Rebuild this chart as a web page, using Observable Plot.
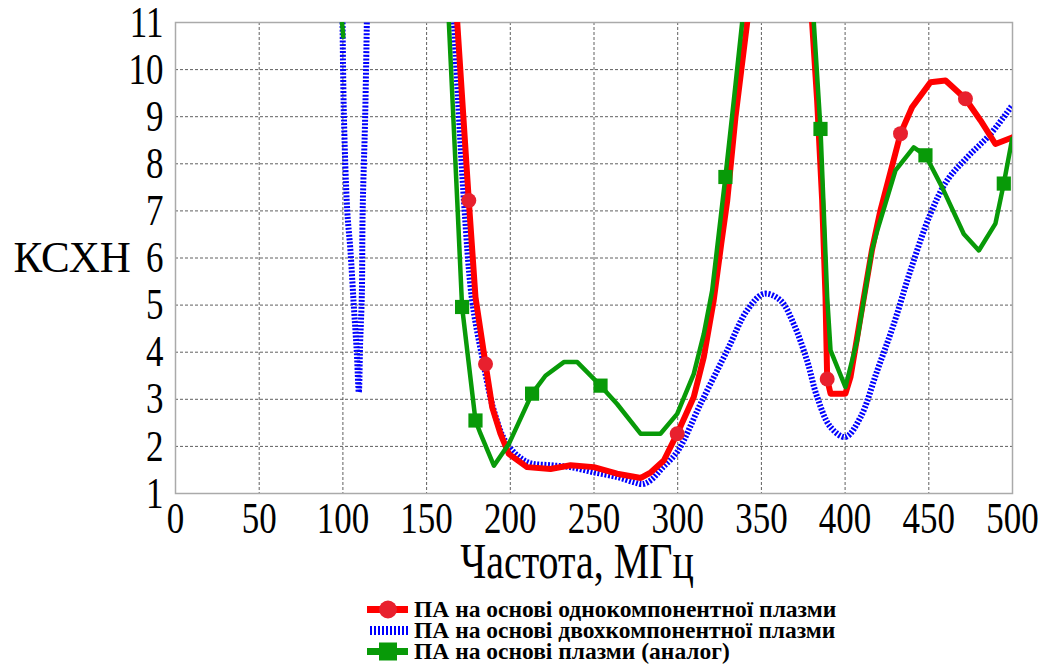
<!DOCTYPE html>
<html><head><meta charset="utf-8">
<script src="https://cdn.jsdelivr.net/npm/d3@7"></script>
<script src="https://cdn.jsdelivr.net/npm/@observablehq/plot@0.6"></script>
<style>
body{margin:0;background:#fff;font-family:"Liberation Serif","Times New Roman",serif;}
#chart svg{display:block;overflow:visible}
#chart svg, #chart svg text{font-family:"Liberation Serif","Times New Roman",serif !important}
#legend{height:72px;padding-top:4px;box-sizing:border-box}
.row{display:flex;align-items:center;height:21px;margin-left:365px}
.row svg{flex:none;margin-right:3px}
.row span{font-weight:bold;font-size:23.5px;line-height:21px;color:#000;display:inline-block;white-space:nowrap}
</style></head><body>
<div id="chart"></div>
<div id="legend"></div>
<script>
const xTicks = [0,50,100,150,200,250,300,350,400,450,500];
const yTicks = [1,2,3,4,5,6,7,8,9,10,11];

const seriesNames = ["ПА на основі однокомпонентної плазми","ПА на основі двохкомпонентної плазми","ПА на основі плазми (аналог)"];

const redFreq = [168.3,175.2,179.2,185.2,189.2,194.1,199.1,210,224,236,249.9,263.8,278,284,291.7,299.7,309.6,315.6,321.5,326,329.6,334.5,341.5,null,380.3,383.3,386.3,388.3,389.3,391.3,400.2,403.2,409.2,416,421.1,433.1,440,451,460,471.9,480.9,489.8,499.8];
const redVswr = [11,7.22,5.17,3.75,2.83,2.27,1.84,1.56,1.52,1.6,1.56,1.42,1.33,1.45,1.7,2.27,3.05,3.9,5.1,6.3,7.22,8.99,11,null,11,9.34,7.22,5.17,3.43,3.12,3.12,3.47,4.74,6.16,7.01,8.64,9.2,9.73,9.77,9.38,8.92,8.42,8.56];

const blueFreq = [99.8,100.6,102.6,104.5,106.5,108.3,109.5,110.3,111.3,111.8,113.3,114.3,null,166.3,172.3,177.2,183.2,190.2,198.1,210,224,236,249.9,263.8,273.8,279,283.8,291,300,313.6,329.6,341.5,351.5,361.4,369.3,377.3,383.3,391.3,400.2,409.2,419.2,429.1,439,451,461,473,487,499.8];
const blueVswr = [11,9,7,6.16,5,4,3.15,4.2,5.2,7,9,11,null,11,7.22,5.1,3.9,2.76,2.05,1.67,1.6,1.56,1.45,1.35,1.24,1.2,1.28,1.55,1.9,2.9,4.04,4.89,5.24,5.1,4.6,3.82,3.05,2.41,2.2,2.62,3.61,4.6,5.73,6.94,7.65,8.14,8.64,9.24];

const greenFreq = [99.5,100.2,null,163.3,168.3,171.2,179.2,182.2,190.2,199.1,213,221,232,240,253.9,263.8,277.8,283.8,289.7,299.7,309.6,315.6,320.6,328.5,333.5,338.5,null,381.3,385.3,389.3,391.3,400.2,407.2,416,419.2,430.1,441,448,458,470.9,479.9,489.8,494.8,499.8];
const greenVswr = [11,10.7,null,11,7.22,4.96,2.55,2.27,1.59,2.05,3.12,3.5,3.79,3.79,3.29,2.9,2.27,2.27,2.27,2.69,3.54,4.39,5.31,7.72,9.34,11,null,11,8.74,5.17,4.04,3.26,4.25,6.16,6.58,7.86,8.35,8.18,7.5,6.51,6.16,6.73,7.58,8.53];

const redMarkFreq = [175.2,185.2,299.7,389.3,433.1,471.9];
const redMarkVswr = [7.22,3.75,2.27,3.43,8.64,9.38];
const greenMarkFreq = [171.2,179.2,213,253.9,328.5,385.3,448,494.8];
const greenMarkVswr = [4.96,2.55,3.12,3.29,7.72,8.74,8.18,7.58];

const toRows = (fs, vs) => fs.map((f, i) => ({f, v: vs[i]}));
const red = toRows(redFreq, redVswr);
const blue = toRows(blueFreq, blueVswr);
const green = toRows(greenFreq, greenVswr);
const redM = toRows(redMarkFreq, redMarkVswr);
const greenM = toRows(greenMarkFreq, greenMarkVswr);

const RED = "#ff0000", RED_M = "#e8202e", BLUE = "#0000ff", GREEN = "#089a08";
const SERIF = '"Liberation Serif","Times New Roman",serif';

const chart = Plot.plot({
  width: 1050, height: 595,
  marginLeft: 175, marginRight: 38, marginTop: 22, marginBottom: 102,
  style: {fontFamily: SERIF, color: "#000", background: "#fff", overflow: "visible"},
  x: {domain: [0, 500]},
  y: {domain: [1, 11]},
  marks: [
    Plot.gridX(xTicks, {stroke: "#444", strokeOpacity: 0.85, strokeDasharray: "3,2"}),
    Plot.gridY(yTicks, {stroke: "#444", strokeOpacity: 0.85, strokeDasharray: "3,2"}),
    Plot.frame({stroke: "#aaa", strokeWidth: 1.5}),
    Plot.axisX(xTicks, {tickSize: 0, tickPadding: 8, fontSize: 35, fontFamily: SERIF, label: null}),
    Plot.axisY(yTicks, {tickSize: 0, tickPadding: 12, fontSize: 35, fontFamily: SERIF, label: null}),
    Plot.line(blue, {x: "f", y: "v", stroke: BLUE, strokeWidth: 6, strokeDasharray: "2,1.6", strokeLinecap: "butt", strokeLinejoin: "miter", curve: "catmull-rom", clip: true}),
    Plot.line(red, {x: "f", y: "v", stroke: RED, strokeWidth: 6, curve: "linear", clip: true}),
    Plot.line(green, {x: "f", y: "v", stroke: GREEN, strokeWidth: 4.5, curve: "linear", clip: true}),
    Plot.dot(redM, {x: "f", y: "v", r: 7.5, fill: RED_M}),
    Plot.dot(greenM, {x: "f", y: "v", r: 8, symbol: "square", fill: GREEN}),
    Plot.text(["КСХН"], {frameAnchor: "left", dx: -162, dy: 0, textAnchor: "start", fontSize: 43, fontFamily: SERIF, className: "ylab"}),
    Plot.text(["Частота, МГц"], {frameAnchor: "bottom", dx: -17, dy: 84, fontSize: 40, fontFamily: SERIF})
  ]
});
// serif font inline and vertical stretch of text like the reference
d3.select(chart).selectAll("text").each(function() {
  this.setAttribute("font-family", "Liberation Serif");
  this.style.fontFamily = "'Liberation Serif', serif";
  const k = this.closest(".ylab") ? 1.05 : 1.26;
  const x = +this.getAttribute("x") || 0, y = +this.getAttribute("y") || 0;
  const t = this.getAttribute("transform") || "";
  this.setAttribute("transform", `${t} translate(${x},${y}) scale(1,${k}) translate(${-x},${-y})`);
});
document.getElementById("chart").append(chart);

// legend
const legend = document.getElementById("legend");
const sym = [
  `<svg width="46" height="21"><line x1="2" x2="43" y1="10.5" y2="10.5" stroke="${RED}" stroke-width="7"/><circle cx="23" cy="10.5" r="9" fill="${RED_M}"/></svg>`,
  `<svg width="46" height="21"><line x1="5" x2="43" y1="10.5" y2="10.5" stroke="${BLUE}" stroke-width="9" stroke-dasharray="2,2"/></svg>`,
  `<svg width="46" height="21"><line x1="2" x2="43" y1="10.5" y2="10.5" stroke="${GREEN}" stroke-width="7"/><rect x="14" y="1.5" width="18" height="18" fill="${GREEN}"/></svg>`
];
seriesNames.forEach((n, i) => {
  const row = document.createElement("div");
  row.className = "row";
  row.innerHTML = sym[i] + `<span>${n}</span>`;
  legend.append(row);
});
</script></body></html>
